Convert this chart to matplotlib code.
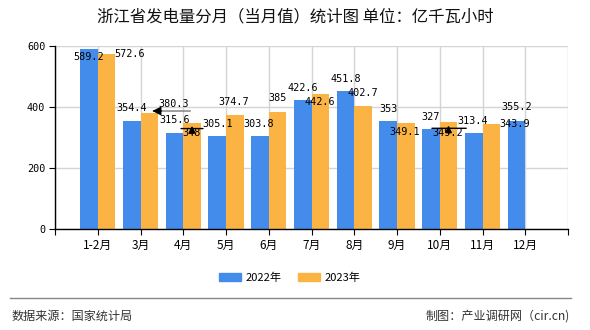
import numpy as np
import matplotlib
matplotlib.use('Agg')
import matplotlib.pyplot as plt
from matplotlib.lines import Line2D
from matplotlib.patches import Patch
from matplotlib.transforms import offset_copy

plt.rcParams['font.family'] = ['Noto Sans CJK SC', 'DejaVu Sans']

# data
months = ['1-2月', '3月', '4月', '5月', '6月', '7月', '8月', '9月', '10月', '11月', '12月']
v2022 = [589.2, 354.4, 315.6, 305.1, 303.8, 422.6, 451.8, 353, 327, 313.4, 355.2]
v2023 = [572.6, 380.3, 348, 374.7, 385, 442.6, 402.7, 349.1, 349.2, 343.9]

# label offsets in pixels (dx, dy) from bar top centre, copied from reference layout
off2022 = [(0, -8), (0, 13), (0, 12.5), (0, 12), (-1, 12), (0, 12), (0, 12.5), (0, 12.3), (0, 12.6), (-1, 12.4), (0, 13.4)]
off2023 = [(23, 0.5), (24, 9), (0, -9.7), (-1, 12.7), (0, 13.6), (0, -8), (0, 12.7), (-0.7, -9.2), (-1, -10.8), (23, 0)]

blue = '#448CEC'
orange = '#FBB443'
W, H = 590, 330

fig = plt.figure(figsize=(W / 100, H / 100), dpi=100)
ax = fig.add_axes([55 / W, 1 - 229 / H, 513 / W, 183 / H])

x22 = np.arange(1, len(v2022) + 1)
x23 = np.arange(1, len(v2023) + 1)
bw = 0.41
ax.bar(x22 - bw / 2, v2022, bw, color=blue, zorder=2)
ax.bar(x23 + bw / 2, v2023, bw, color=orange, zorder=2)

ax.set_xlim(0, 12)
ax.set_ylim(0, 600)
ax.set_xticks(np.arange(0, 13))
ax.set_xticklabels([''] + months + [''])
ax.set_yticks([0, 200, 400, 600])
ax.grid(color='#d4d4d4', lw=1, zorder=0)
ax.set_axisbelow(True)
for s in ['top', 'right']:
    ax.spines[s].set_visible(False)
for s in ['left', 'bottom']:
    ax.spines[s].set_color('black')
    ax.spines[s].set_linewidth(1)
ax.tick_params(axis='x', length=4, pad=3, labelsize=8.5, color='black')
ax.tick_params(axis='y', length=4, pad=3, color='black')
for t in ax.get_yticklabels():
    t.set_family('DejaVu Sans Mono')
    t.set_fontsize(7.3)

num_font = dict(family='DejaVu Sans Mono', fontsize=7.3, color='black')
for x, v, (dx, dy) in zip(x22 - bw / 2, v2022, off2022):
    ax.annotate(f'{v:g}', (x, v), xytext=(dx, dy), textcoords='offset pixels',
                ha='center', va='center', zorder=5, **num_font)
for x, v, (dx, dy) in zip(x23 + bw / 2, v2023, off2023):
    ax.annotate(f'{v:g}', (x, v), xytext=(dx, dy), textcoords='offset pixels',
                ha='center', va='center', zorder=5, **num_font)


def leader(x, v, p1, p2, style, color):
    # line between two pixel offsets from a bar top, arrow head (if any) at p1
    tr = offset_copy(ax.transData, fig=fig, x=p1[0], y=p1[1], units='dots')
    ax.annotate('', xy=(x, v), xycoords=tr, xytext=(p2[0] - p1[0], p2[1] - p1[1]),
                textcoords='offset pixels', zorder=4,
                arrowprops=dict(arrowstyle=style, color=color, lw=1, shrinkA=0, shrinkB=0))


# little marker lines seen in the reference
leader(2 + bw / 2, 380.3, (4, 2), (41, 2), '-', '#777777')
leader(2 + bw / 2, 380.3, (3, 2), (12, 2), '-|>,head_width=0.25,head_length=0.5', 'black')
leader(3 + bw / 2, 348, (-11, -5.7), (11, -5.7), '-', 'black')
leader(3 + bw / 2, 348, (0, -3), (0, -11), '-|>,head_width=0.2,head_length=0.4', 'black')
leader(9 + bw / 2, 349.2, (-16.6, -5.8), (17.7, -5.8), '-', 'black')
leader(9 + bw / 2, 349.2, (0, -3), (0, -11), '-|>,head_width=0.2,head_length=0.4', 'black')

fig.text(295 / W, 1 - 16.7 / H, '浙江省发电量分月（当月值）统计图 单位：亿千瓦小时',
         ha='center', va='center', fontsize=11.8, weight='medium', color='#111111')

handles = [Patch(color=blue, label='2022年'), Patch(color=orange, label='2023年')]
fig.legend(handles=handles, loc='center', bbox_to_anchor=(290 / W, 1 - 277.5 / H), ncol=2,
           frameon=False, fontsize=8, handlelength=1.95, handleheight=0.75,
           handletextpad=0.45, columnspacing=1.45)

fig.add_artist(Line2D([10 / W, 571 / W], [1 - 298.3 / H] * 2, color='#888888', lw=1))
fig.text(11.5 / W, 1 - 316 / H, '数据来源：国家统计局', ha='left', va='center',
         fontsize=8.7, color='#333333')
fig.text(569.5 / W, 1 - 316 / H, '制图：产业调研网（cir.cn)', ha='right', va='center',
         fontsize=8.7, color='#333333')

fig.savefig('out.png', dpi=100)
